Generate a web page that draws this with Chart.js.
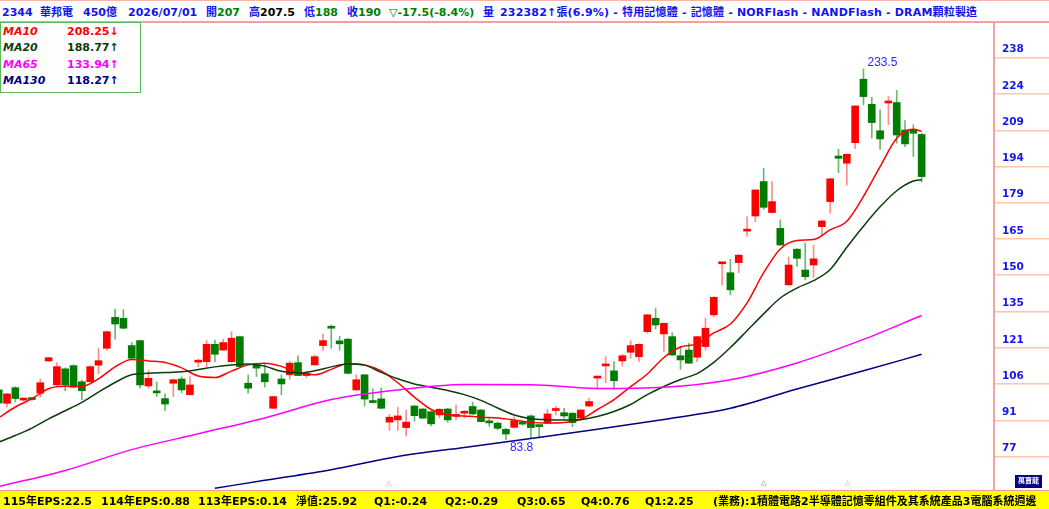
<!DOCTYPE html>
<html>
<head>
<meta charset="utf-8">
<script src="https://cdn.jsdelivr.net/npm/chart.js@4.4.1/dist/chart.umd.min.js"></script>
<style>
html, body { margin: 0; padding: 0; background: #fff; }
body { width: 1049px; height: 509px; position: relative; overflow: hidden;
  font-family: "DejaVu Sans", "Noto Sans CJK TC", sans-serif; font-weight: bold; font-size: 11px; }
#head { position: absolute; left: 0; top: 0; width: 1049px; height: 20px;
  border-top: 1px solid #f7b4a4; border-bottom: 2px solid #f4a0a0; }
#head span, #foot span { position: absolute; white-space: nowrap; line-height: 13px; }
#head span { top: 5px; }
.b { color: #1212f0; }
.g { color: #008000; }
.k { color: #000; }
#kchart { position: absolute; left: 0; top: 22px; }
#maBox { position: absolute; left: 0; top: 22px; width: 139px; height: 68px;
  border: 1px solid #5cb85c; background: #fff; padding-top: 1px; }
#maBox div { height: 16.3px; line-height: 16.3px; position: relative; }
#maBox i { position: absolute; left: 2px; }
#maBox span { position: absolute; left: 66px; }
#foot { position: absolute; left: 0; top: 490px; width: 1049px; height: 18px;
  background: #ffff00; border-top: 1px solid #f09a9a; overflow: hidden; }
#foot span { top: 4px; color: #000; }
#badge { position: absolute; left: 1015px; top: 475px; width: 27px; height: 13px;
  background: #000080; color: #fff; font-size: 7px; line-height: 13px; text-align: center; }
.tri { position: absolute; top: 478px; font-size: 7px; font-weight: normal; line-height: 10px; }
</style>
</head>
<body>
<div id="head">
  <span class="b" style="left:2px">2344</span>
  <span class="b" style="left:40px">華邦電</span>
  <span class="b" style="left:83px">450億</span>
  <span class="b" style="left:128px">2026/07/01</span>
  <span style="left:206px"><span class="b" style="position:static">開</span><span class="g" style="position:static">207</span></span>
  <span style="left:249px"><span class="b" style="position:static">高</span><span class="k" style="position:static">207.5</span></span>
  <span style="left:304px"><span class="b" style="position:static">低</span><span class="g" style="position:static">188</span></span>
  <span style="left:347px"><span class="b" style="position:static">收</span><span class="g" style="position:static">190</span></span>
  <span class="g" style="left:389px">▽-17.5(-8.4%)</span>
  <span class="b" style="left:483px">量</span>
  <span class="b" style="left:500px;letter-spacing:0.18px">232382↑張(6.9%) - 特用記憶體 - 記憶體 - NORFlash - NANDFlash - DRAM顆粒製造</span>
</div>

<canvas id="kchart" width="1049" height="469"></canvas>

<div id="maBox"></div>

<span class="tri" style="left:386px;color:#ff7f9f">△</span>
<span class="tri" style="left:761px;color:#3c9c3c">△</span>
<span class="tri" style="left:845px;color:#ff7f9f">△</span>

<div id="badge">萬寶龍</div>

<div id="foot">
  <span style="left:3px">115年EPS:22.5</span>
  <span style="left:101px">114年EPS:0.88</span>
  <span style="left:198px">113年EPS:0.14</span>
  <span style="left:296px">淨值:25.92</span>
  <span style="left:374px">Q1:-0.24</span>
  <span style="left:445px">Q2:-0.29</span>
  <span style="left:517px">Q3:0.65</span>
  <span style="left:581px">Q4:0.76</span>
  <span style="left:645px">Q1:2.25</span>
  <span style="left:713px">(業務):1積體電路2半導體記憶零組件及其系統產品3電腦系統週邊</span>
</div>

<script>
// daily candles, oldest first
const opens = [
  103.9, 98.5, 104.8, 99.8, 100.3, 102.6, 115.6, 105.9, 112.4, 113.7,
  107.2, 107.2, 113.9, 120.7, 133.2, 132.8, 121.8, 123.8, 105.5, 103.0,
  100.4, 106.6, 108.3, 102.0, 115.1, 115.3, 122.3, 120.0, 115.3, 125.4,
  106.6, 114.0, 110.4, 96.5, 108.3, 110.0, 114.9, 109.7, 114.0, 121.8,
  129.2, 123.7, 124.4, 103.9, 110.0, 99.6, 100.3, 90.9, 91.8, 88.7,
  97.4, 96.2, 95.1, 93.8, 96.2, 93.2, 94.5, 97.2, 95.8, 91.0,
  90.5, 88.0, 88.8, 90.4, 93.4, 89.3, 90.5, 95.6, 94.7, 94.5,
  92.5, 97.4, 108.7, 113.6, 111.6, 115.6, 119.1, 117.3, 127.4, 132.8,
  126.5, 125.4, 117.7, 120.0, 117.1, 121.4, 134.2, 154.8, 151.2, 155.3,
  168.0, 174.1, 188.0, 175.5, 169.1, 146.3, 160.7, 152.3, 154.3, 169.8,
  179.9, 198.3, 195.4, 203.7, 229.3, 219.2, 208.5, 219.7, 219.9, 208.8,
  208.8, 207.0
];
const highs = [
  105.0, 102.5, 105.2, 100.8, 100.6, 108.3, 117.1, 114.9, 112.8, 114.0,
  107.9, 113.6, 120.7, 127.6, 136.5, 136.3, 123.0, 124.0, 111.7, 107.2,
  102.3, 108.2, 109.2, 109.3, 116.3, 123.8, 124.0, 124.4, 127.4, 125.6,
  110.0, 114.7, 114.7, 101.4, 110.0, 115.4, 117.7, 111.2, 118.0, 126.4,
  130.1, 125.5, 124.6, 110.0, 110.2, 104.3, 104.6, 94.0, 96.9, 95.8,
  97.6, 96.4, 95.3, 96.3, 96.4, 97.8, 95.6, 99.0, 96.0, 92.3,
  91.0, 88.4, 93.0, 91.3, 93.7, 89.4, 96.0, 97.4, 96.5, 94.7,
  95.9, 100.6, 109.0, 117.3, 115.3, 118.2, 123.8, 122.5, 134.4, 136.9,
  131.0, 127.0, 121.4, 122.7, 125.6, 132.8, 141.5, 155.2, 156.6, 158.5,
  173.8, 184.8, 193.4, 188.0, 172.5, 157.5, 160.9, 163.1, 162.4, 172.3,
  189.3, 201.0, 199.2, 218.7, 233.5, 222.0, 216.9, 222.3, 224.8, 212.6,
  210.9, 207.5
];
const lows = [
  97.5, 97.0, 99.2, 99.5, 99.7, 101.0, 115.4, 105.5, 103.6, 104.8,
  99.9, 107.0, 110.4, 119.9, 124.4, 128.5, 116.5, 104.6, 104.6, 101.2,
  95.5, 101.2, 102.7, 101.8, 113.3, 113.3, 115.3, 119.8, 115.0, 113.0,
  102.6, 109.3, 105.0, 96.3, 101.9, 108.3, 109.5, 108.8, 113.8, 119.8,
  120.7, 119.9, 110.4, 103.7, 97.4, 98.6, 96.3, 87.5, 87.5, 85.3,
  91.3, 92.3, 89.4, 92.5, 90.8, 91.8, 92.5, 94.0, 91.0, 89.2,
  87.8, 83.8, 88.5, 89.6, 84.6, 84.6, 90.2, 93.8, 92.5, 89.1,
  92.3, 97.2, 104.6, 106.8, 104.2, 113.6, 116.7, 115.3, 126.8, 128.5,
  119.4, 117.8, 112.2, 114.5, 115.3, 120.0, 133.5, 146.3, 142.2, 151.2,
  166.0, 171.8, 176.8, 175.3, 162.2, 146.1, 153.7, 148.3, 149.4, 166.5,
  175.2, 191.6, 186.6, 201.4, 218.9, 205.5, 201.0, 210.9, 203.5, 202.1,
  198.1, 188.0
];
const closes = [
  98.6, 102.3, 100.4, 100.3, 100.0, 106.8, 116.9, 113.3, 105.9, 105.0,
  103.6, 113.3, 115.7, 127.4, 130.5, 128.8, 116.7, 105.9, 108.6, 102.7,
  98.2, 108.0, 103.9, 105.9, 115.5, 122.3, 118.3, 123.0, 124.8, 113.3,
  104.6, 112.7, 107.2, 101.2, 106.3, 114.7, 109.7, 110.6, 117.3, 123.8,
  128.8, 122.5, 110.6, 108.0, 100.2, 98.8, 96.5, 92.9, 93.4, 90.9,
  93.5, 92.5, 90.2, 96.1, 91.8, 93.6, 94.9, 94.2, 91.1, 90.6,
  88.4, 86.1, 91.5, 90.1, 88.7, 89.1, 94.2, 96.0, 93.4, 90.7,
  95.8, 99.2, 108.9, 114.4, 107.6, 117.7, 121.8, 122.3, 134.2, 130.1,
  130.8, 118.0, 116.0, 114.7, 125.4, 128.8, 141.3, 155.0, 144.3, 158.3,
  168.4, 184.6, 177.6, 179.9, 162.4, 154.3, 157.0, 149.6, 156.8, 172.1,
  189.1, 197.4, 199.0, 218.5, 222.3, 211.8, 205.2, 220.1, 206.8, 203.2,
  207.5, 190.0
];

// moving averages (candle index -> value)
const maIdx = [0, 2, 4, 6, 8, 10, 12, 14, 16, 18, 20, 22, 24, 26, 28, 30, 32, 34, 36, 38,
  40, 42, 44, 46, 48, 50, 52, 54, 56, 58, 60, 62, 64, 66, 68, 70, 72, 74, 76, 78,
  80, 82, 84, 86, 88, 90, 92, 94, 96, 98, 100, 102, 104, 106, 108, 110, 111];
const ma10 = [92.7, 97.0, 100.4, 104.4, 105.4, 105.3, 108.4, 113.2, 116.2, 115.6,
  115.0, 112.8, 109.5, 108.9, 111.5, 114.0, 114.7, 113.4, 110.8, 110.0,
  112.2, 114.6, 114.0, 111.6, 106.8, 101.0, 96.0, 93.9, 93.4, 92.9,
  92.6, 91.8, 90.8, 90.5, 90.7, 92.0, 96.0, 100.0, 105.2, 110.3,
  117.0, 121.2, 122.5, 126.9, 130.5, 139.0, 151.2, 160.8, 164.2, 164.6,
  168.5, 172.0, 182.0, 194.0, 205.5, 209.1, 208.25];
const ma20 = [82.8, 85.5, 88.5, 92.2, 95.5, 98.9, 103.0, 106.9, 110.0, 110.6,
  110.9, 111.2, 112.1, 113.2, 114.0, 114.4, 113.5, 111.4, 110.7, 111.6,
  113.2, 114.4, 113.9, 111.0, 108.4, 106.3, 105.0, 103.7, 102.0, 99.7,
  96.6, 93.8, 92.3, 91.9, 91.8, 91.9, 93.2, 95.2, 98.0, 102.0,
  105.3, 108.1, 110.5, 115.0, 121.0, 127.8, 134.6, 141.0, 145.0, 148.0,
  152.5, 161.5, 170.0, 177.8, 184.3, 188.2, 188.77];
const ma65Idx = [0, 8, 16, 24, 32, 40, 48, 56, 64, 72, 80, 88, 96, 104, 111];
const ma65 = [64.9, 71.4, 79.8, 86.2, 92.6, 100.0, 103.9, 106.1, 106.0, 104.5, 105.0, 108.0, 114.8, 124.3, 133.94];
const ma130Idx = [26, 32, 40, 48, 56, 64, 72, 80, 88, 96, 104, 111];
const ma130 = [64.2, 67.4, 71.7, 77.0, 80.7, 84.3, 88.0, 92.0, 96.5, 104.3, 111.6, 118.27];

// right axis
const tickValues = [238.0, 223.4, 208.7, 194.1, 179.5, 164.8, 150.2, 135.5, 120.9, 106.3, 91.6, 77.0];
const tickLabels = ['238', '224', '209', '194', '179', '165', '150', '135', '121', '106', '91', '77'];

const UP = '#ff0000', DOWN = '#007d00';
const UP_WICK = '#ff8c8c', DOWN_WICK = '#6cb86c';
const MA_COLORS = { MA10: '#ff0000', MA20: '#0b3d0b', MA65: '#ff00ff', MA130: '#000080' };

const isUp = closes.map((c, i) => c >= opens[i]);
const pts = (idx, vals) => idx.map((x, k) => ({ x, y: vals[k] }));

// MA legend box
const maList = [['MA10', ma10], ['MA20', ma20], ['MA65', ma65], ['MA130', ma130]];
const box = document.getElementById('maBox');
maList.forEach(([name, vals]) => {
  const last = vals[vals.length - 1], prev = vals[vals.length - 2];
  const row = document.createElement('div');
  row.innerHTML = `<i style="color:${MA_COLORS[name]}">${name}</i>` +
    `<span style="color:${MA_COLORS[name]}">${last.toFixed(2)}${last < prev ? '↓' : '↑'}</span>`;
  box.appendChild(row);
});

const extremeLabels = {
  id: 'extremeLabels',
  afterDatasetsDraw(chart) {
    const { ctx, scales: { x, y } } = chart;
    const hi = highs.indexOf(Math.max(...highs));
    const lo = lows.indexOf(Math.min(...lows));
    ctx.save();
    ctx.fillStyle = '#2b2bff';
    ctx.font = '12px "Liberation Sans", Arial, sans-serif';
    ctx.textAlign = 'left';
    ctx.textBaseline = 'alphabetic';
    ctx.fillText(String(highs[hi]), x.getPixelForValue(hi) + 4, y.getPixelForValue(highs[hi]) - 3);
    ctx.textBaseline = 'top';
    ctx.fillText(String(lows[lo]), x.getPixelForValue(lo) + 4, y.getPixelForValue(lows[lo]) + 2);
    ctx.restore();
  }
};

const maLine = (idx, vals, color) => ({
  type: 'line', data: pts(idx, vals), borderColor: color, borderWidth: 1.5,
  pointRadius: 0, cubicInterpolationMode: 'monotone', order: 0
});

new Chart(document.getElementById('kchart'), {
  type: 'bar',
  data: {
    datasets: [
      maLine(ma130Idx, ma130, MA_COLORS.MA130),
      maLine(ma65Idx, ma65, MA_COLORS.MA65),
      maLine(maIdx, ma20, MA_COLORS.MA20),
      maLine(maIdx, ma10, MA_COLORS.MA10),
      {
        data: opens.map((o, i) => ({ x: i, y: [lows[i], highs[i]] })),
        backgroundColor: isUp.map(u => u ? UP_WICK : DOWN_WICK),
        barThickness: 1, grouped: false, order: 2
      },
      {
        data: opens.map((o, i) => ({ x: i, y: [o, closes[i]] })),
        backgroundColor: isUp.map(u => u ? UP : DOWN),
        barThickness: 7, minBarLength: 2, grouped: false, order: 1
      }
    ]
  },
  options: {
    responsive: false,
    animation: false,
    events: [],
    layout: { padding: 0 },
    plugins: { legend: { display: false }, tooltip: { enabled: false } },
    scales: {
      x: { type: 'linear', min: 0.156, max: 119.7, offset: false, display: false },
      y: {
        type: 'linear', position: 'right', min: 63.1, max: 252.4,
        afterBuildTicks: s => { s.ticks = tickValues.map(v => ({ value: v })); },
        afterFit: s => { s.width = 55; s.paddingTop = 0; s.paddingBottom = 0; },
        grid: { drawOnChartArea: false, drawTicks: true, tickLength: 55, color: '#ffc6a8', lineWidth: 1.5 },
        border: { display: true, color: '#f4a3a3', width: 2 },
        ticks: {
          padding: -47, labelOffset: -8, color: '#1414ee',
          font: { family: 'DejaVu Sans', size: 10.5, weight: 'bold' },
          callback: v => tickLabels[tickValues.indexOf(v)]
        }
      }
    }
  },
  plugins: [extremeLabels]
});
</script>
</body>
</html>
